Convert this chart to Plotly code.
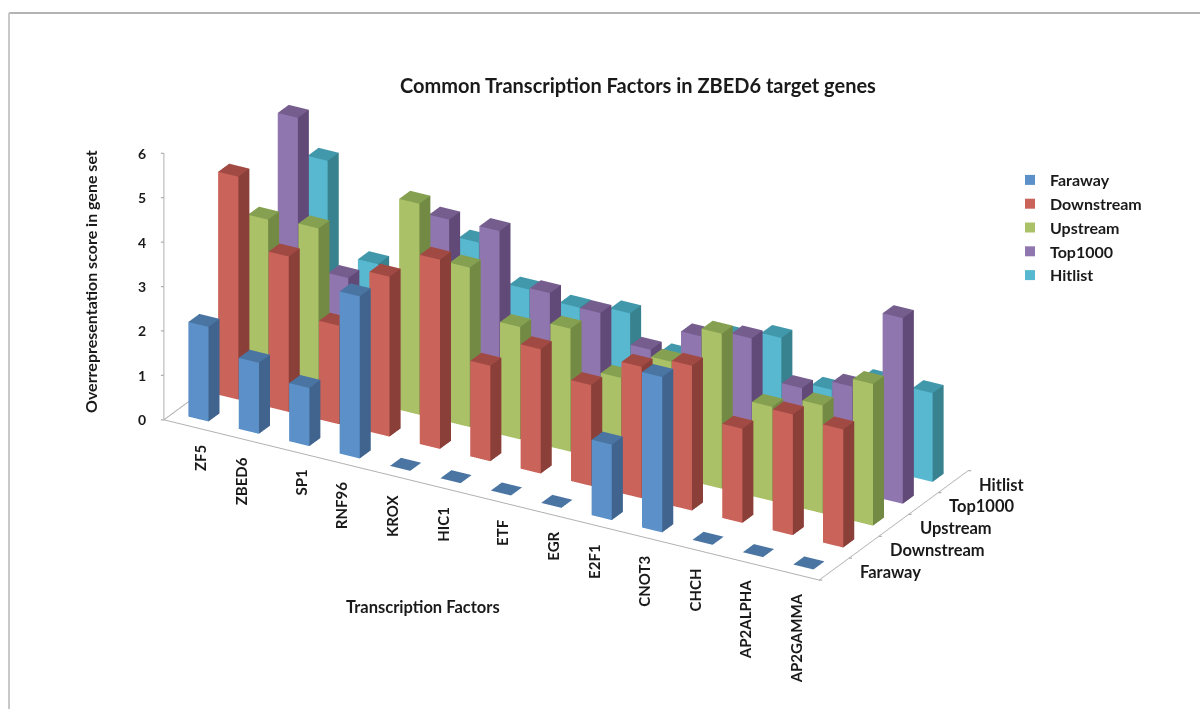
import plotly.graph_objects as go

categories = ["ZF5", "ZBED6", "SP1", "RNF96", "KROX", "HIC1", "ETF", "EGR", "E2F1", "CNOT3", "CHCH", "AP2ALPHA", "AP2GAMMA"]
series_names = ["Faraway", "Downstream", "Upstream", "Top1000", "Hitlist"]
faraway = [2.13, 1.6, 1.31, 3.65, 0, 0, 0, 0, 1.7, 3.5, 0, 0, 0]
downstream = [5.02, 3.5, 2.22, 3.6, 4.26, 2.15, 2.8, 2.27, 2.96, 3.26, 2.12, 2.72, 2.66]
upstream = [3.56, 3.64, 0, 4.75, 3.59, 2.53, 2.77, 1.94, 2.58, 3.49, 2.12, 2.43, 3.19]
top1000 = [5.36, 2.03, 0, 3.9, 3.92, 2.8, 2.63, 2.08, 2.66, 2.89, 2.05, 2.36, 4.18]
hitlist = [3.9, 1.85, 0, 2.89, 2.11, 1.98, 2.13, 1.44, 2.17, 2.41, 1.52, 1.97, 2.0]
all_values = [faraway, downstream, upstream, top1000, hitlist]
z_ticks = [0, 1, 2, 3, 4, 5, 6]

front_colors = ["#5B90C9", "#CA635A", "#ABC167", "#9076AF", "#57B8CF"]
side_colors = ["#40648E", "#8A3F38", "#728A44", "#614A77", "#38818F"]
top_colors = ["#4A74A2", "#A04A43", "#84A050", "#755D8E", "#4298AB"]

BAR_W = 0.4
BAR_D = 0.37
FONT = "Lato"
TXT = "#1a1a1a"
AXIS_GREY = "#b0b0b0"


def bars(values, s, front, side, top):
    xs, ys, zs, i_, j_, k_, fc = [], [], [], [], [], [], []
    for c, v in enumerate(values):
        x0, x1 = c + 0.5 - BAR_W / 2, c + 0.5 + BAR_W / 2
        y0, y1 = s + 0.5 - BAR_D / 2, s + 0.5 + BAR_D / 2
        n = len(xs)
        xs += [x0, x1, x1, x0, x0, x1, x1, x0]
        ys += [y0, y0, y1, y1, y0, y0, y1, y1]
        zs += [0, 0, 0, 0, v, v, v, v]
        quads = [((0, 1, 5, 4), front), ((1, 2, 6, 5), side), ((4, 5, 6, 7), top)]
        for (a, b, d, e), col in quads:
            i_ += [n + a, n + a]
            j_ += [n + b, n + d]
            k_ += [n + d, n + e]
            fc += [col, col]
    return xs, ys, zs, i_, j_, k_, fc


fig = go.Figure()
for s, name in enumerate(series_names):
    xs, ys, zs, i_, j_, k_, fc = bars(all_values[s], s, front_colors[s], side_colors[s], top_colors[s])
    fig.add_trace(go.Mesh3d(
        x=xs, y=ys, z=zs, i=i_, j=j_, k=k_, facecolor=fc, flatshading=True, name=name,
        showlegend=False, showscale=False, hoverinfo="name",
        lighting=dict(ambient=1, diffuse=0, specular=0, roughness=1, fresnel=0),
    ))
    fig.add_trace(go.Scatter(x=[None], y=[None], mode="markers", name=name,
                             marker=dict(symbol="square", size=10, color=front_colors[s])))

# left floor edge of the box
fig.add_trace(go.Scatter3d(x=[0, 0], y=[0, len(series_names)], z=[0, 0], mode="lines", showlegend=False,
                           hoverinfo="skip", line=dict(color=AXIS_GREY, width=2)))

axis_common = dict(
    showgrid=False, zeroline=False, showbackground=False, showspikes=False, showline=True,
    linecolor=AXIS_GREY, linewidth=2, ticks="", showticklabels=False, title=dict(text=""),
)


def label(x, y, z, text, size=16, **kw):
    return dict(x=x, y=y, z=z, text="<b>%s</b>" % text, showarrow=False,
                font=dict(family=FONT, size=size, color=TXT), **kw)


def tick(x, y, z, ax, ay):
    return dict(x=x, y=y, z=z, text=" ", showarrow=True, arrowhead=0, arrowwidth=1.2, arrowcolor=AXIS_GREY,
                ax=ax, ay=ay, standoff=0, startstandoff=0)


scene_labels = []
for c, name in enumerate(categories):
    scene_labels.append(label(c + 0.5, 0, 0, name, size=15, textangle=-90, xanchor="center", yanchor="top",
                              xshift=11 if len(name) <= 3 else 1.5, yshift=-17))
for s, name in enumerate(series_names):
    scene_labels.append(label(13, s + 0.5, 0, name, size=16.5, xanchor="left", yanchor="middle", xshift=24, yshift=-3))
for v in z_ticks:
    scene_labels.append(label(0, 0, v, str(v), size=14, xanchor="right", yanchor="middle", xshift=-16))
    scene_labels.append(tick(0, 0, v, -6, 0))
for c in range(len(categories) + 1):
    scene_labels.append(tick(c, 0, 0, 0, 6))
for s in range(len(series_names) + 1):
    scene_labels.append(tick(13, s, 0, 6, 0))

fig.update_layout(
    width=1200, height=709, margin=dict(l=0, r=0, t=0, b=0), paper_bgcolor="white", plot_bgcolor="white",
    xaxis=dict(visible=False), yaxis=dict(visible=False),
    title=dict(text="<b>Common Transcription Factors in ZBED6 target genes</b>", x=638 / 1200, xanchor="center",
               y=1 - 86 / 709, yanchor="middle", font=dict(family=FONT, size=20, color=TXT)),
    scene=dict(
        domain=dict(x=[0, 1132 / 1200], y=[1 - 624 / 709, 1]),
        aspectmode="manual", aspectratio=dict(x=2.425, y=0.955, z=0.943),
        camera=dict(eye=dict(x=0.453 * 2, y=-0.785 * 2, z=0.424 * 2), up=dict(x=0, y=0, z=1),
                    center=dict(x=0, y=0, z=0), projection=dict(type="orthographic")),
        xaxis=dict(axis_common, range=[0, 13]),
        yaxis=dict(axis_common, range=[0, 5]),
        zaxis=dict(axis_common, range=[0, 6]),
        annotations=scene_labels,
    ),
    legend=dict(x=1010 / 1200, y=1 - 163 / 709, xanchor="left", yanchor="top", tracegroupgap=0,
                font=dict(family=FONT, size=16, color=TXT, weight="bold"), bgcolor="rgba(0,0,0,0)"),
    shapes=[
        dict(type="line", xref="paper", yref="paper", x0=9 / 1200, x1=1, y0=1 - 13 / 709, y1=1 - 13 / 709,
             line=dict(color="#b4b4b4", width=2)),
        dict(type="line", xref="paper", yref="paper", x0=9 / 1200, x1=9 / 1200, y0=0, y1=1 - 13 / 709,
             line=dict(color="#c8c8c8", width=2)),
    ],
    annotations=[
        dict(text="<b>Transcription Factors</b>", x=423 / 1200, y=1 - 607 / 709, xref="paper", yref="paper",
             xanchor="center", yanchor="middle", showarrow=False, font=dict(family=FONT, size=16.5, color=TXT)),
        dict(text="<b>Overrepresentation score in gene set</b>", x=90 / 1200, y=1 - 282 / 709, xref="paper", yref="paper",
             xanchor="center", yanchor="middle", showarrow=False, textangle=-90, font=dict(family=FONT, size=16, color=TXT)),
    ],
)
fig.write_html("out.html", config=dict(displayModeBar=False), post_script="document.body.style.margin='0';")
